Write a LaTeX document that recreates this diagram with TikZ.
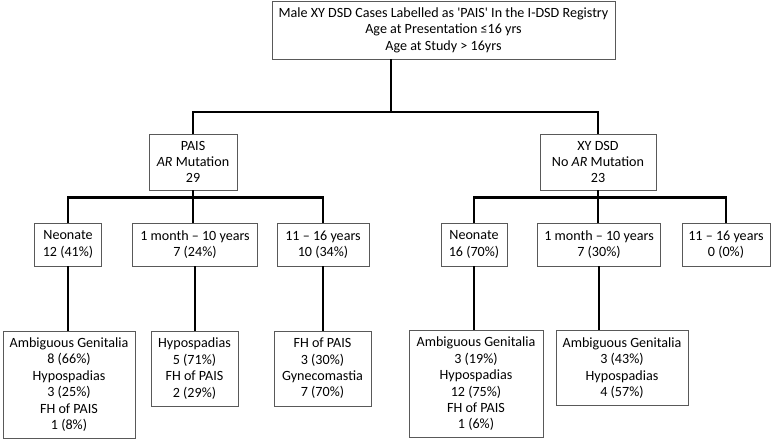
\documentclass[tikz,border=0pt]{standalone}
\usepackage{fontspec}
\setmainfont{Carlito}
\usetikzlibrary{positioning}

\tikzset{
  box/.style={draw=black!65, line width=0.8pt, align=center, inner sep=0pt,
    font=\fontsize{14.1}{16.4}\selectfont},
  link/.style={line width=2.2pt},
}

\begin{document}
\begin{tikzpicture}[x=1pt,y=-1pt]
\useasboundingbox (0,0) rectangle (776,440);

% registry box
\node[box, minimum width=343pt, minimum height=58pt] (top) at (443.5,30) {Male XY DSD Cases Labelled as \textquotesingle PAIS\textquotesingle\ In the I-DSD Registry\\Age at Presentation ≤16 yrs\\Age at Study > 16yrs};

% the two groups
\node[box, minimum width=88pt, minimum height=56pt] (pais) at (193,162) {PAIS\\\textit{AR} Mutation\\29};
\node[box, minimum width=116pt, minimum height=56pt] (xy) at (598,162) {XY DSD\\No \textit{AR} Mutation\\23};

% age at presentation, PAIS
\node[box, minimum width=67pt, minimum height=43pt] (neo1) at (68,244.5) {Neonate\\12 (41\%)};
\node[box, minimum width=125pt, minimum height=43pt] (mon1) at (195,244.5) {1 month – 10 years\\7 (24\%)};
\node[box, minimum width=92pt, minimum height=43pt] (ado1) at (323,244.5) {11 – 16 years\\10 (34\%)};
% age at presentation, XY DSD
\node[box, minimum width=66pt, minimum height=43pt] (neo2) at (474,244.5) {Neonate\\16 (70\%)};
\node[box, minimum width=123pt, minimum height=43pt] (mon2) at (599,244.5) {1 month – 10 years\\7 (30\%)};
\node[box, minimum width=88pt, minimum height=43pt] (ado2) at (726,244.5) {11 – 16 years\\0 (0\%)};

% phenotypes
\node[box, minimum width=132pt, minimum height=107pt] (leafneo1) at (69,384.5) {Ambiguous Genitalia\\8 (66\%)\\Hypospadias\\3 (25\%)\\FH of PAIS\\1 (8\%)};
\node[box, minimum width=87pt, minimum height=75pt] (leafmon1) at (194.5,368.5) {Hypospadias\\5 (71\%)\\FH of PAIS\\2 (29\%)};
\node[box, minimum width=97pt, minimum height=75pt] (leafado1) at (322.5,368.5) {FH of PAIS\\3 (30\%)\\Gynecomastia\\7 (70\%)};
\node[box, minimum width=134pt, minimum height=107pt] (leafneo2) at (476,384) {Ambiguous Genitalia\\3 (19\%)\\Hypospadias\\12 (75\%)\\FH of PAIS\\1 (6\%)};
\node[box, minimum width=132pt, minimum height=75pt] (leafmon2) at (622,368) {Ambiguous Genitalia\\3 (43\%)\\Hypospadias\\4 (57\%)};

% connectors
\coordinate (hub) at (391,112);
\draw[link] (top.south -| hub) -- (hub);
\draw[link] (pais.north) |- (hub) -| (xy.north);

\draw[link] (pais.south) -- ++(0,7) coordinate (hubA);
\draw[link] (neo1.north) |- (hubA) -| (ado1.north);
\draw[link] (hubA) -- (hubA |- mon1.north);

\draw[link] (xy.south) -- ++(0,7) coordinate (hubB);
\draw[link] (neo2.north) |- (hubB) -| (ado2.north);
\draw[link] (hubB) -- (hubB |- mon2.north);

\draw[link] (neo1.south) -- (neo1.south |- leafneo1.north);
\draw[link] (mon1.south) -- (mon1.south |- leafmon1.north);
\draw[link] (ado1.south) -- (ado1.south |- leafado1.north);
\draw[link] (neo2.south) -- (neo2.south |- leafneo2.north);
\draw[link] (mon2.south) -- (mon2.south |- leafmon2.north);
\end{tikzpicture}
\end{document}
